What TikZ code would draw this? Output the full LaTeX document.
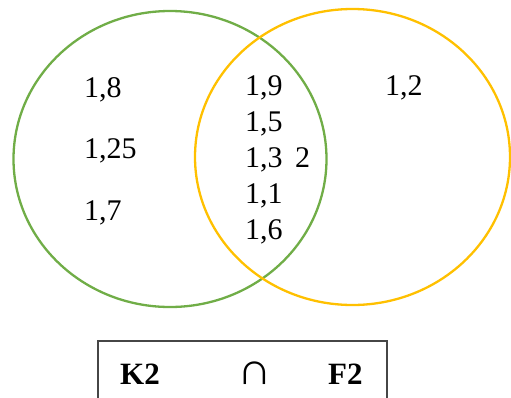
\documentclass[tikz,border=0pt]{standalone}
\usepackage{fontspec}
\setmainfont{Liberation Serif}
\usetikzlibrary{shapes.geometric}
\definecolor{vgreen}{RGB}{112,173,71}
\definecolor{vorange}{RGB}{255,192,0}
\definecolor{boxgray}{RGB}{70,70,70}
\begin{document}
\begin{tikzpicture}[x=1pt,y=-1pt,
  setring/.style={draw, ellipse, line width=2.3pt, inner sep=0pt},
  num/.style={anchor=base west, inner sep=0pt, font=\fontsize{30}{36}\selectfont},
  hd/.style={anchor=base west, inner sep=0pt, font=\fontsize{31}{36}\selectfont\bfseries}]
\useasboundingbox (0,0) rectangle (511,397);
\clip (0,0) rectangle (511,397);
\node[setring, draw=vgreen, minimum width=313pt, minimum height=296pt] (K) at (170,159) {};
\node[setring, draw=vorange, minimum width=315pt, minimum height=296pt] (F) at (352.5,157) {};
\node[num] (a1) at (84,97) {1,8};
\node[num] (a2) at (84,158) {1,25};
\node[num] (a3) at (84,220) {1,7};
\node[num] (b1) at (245,95) {1,9};
\node[num] (b2) at (245,131) {1,5};
\node[num] (b3) at (245,167) {1,3};
\node[num] (b4) at (245,203) {1,1};
\node[num] (b5) at (245,239) {1,6};
\node[num] (b6) at (295,167) {2};
\node[num] (c1) at (385,95) {1,2};
\draw[boxgray, line width=1.5pt] (98,420) -- (98,341) -- (387,341) -- (387,420);
\node[hd] (k2) at (120,384) {K2};
\node[anchor=base, inner sep=0pt, font=\fontsize{30}{36}\selectfont, xscale=1.6, yscale=1.5] (cap) at (255,384) {∩};
\node[hd] (f2) at (328,384) {F2};
\end{tikzpicture}
\end{document}
